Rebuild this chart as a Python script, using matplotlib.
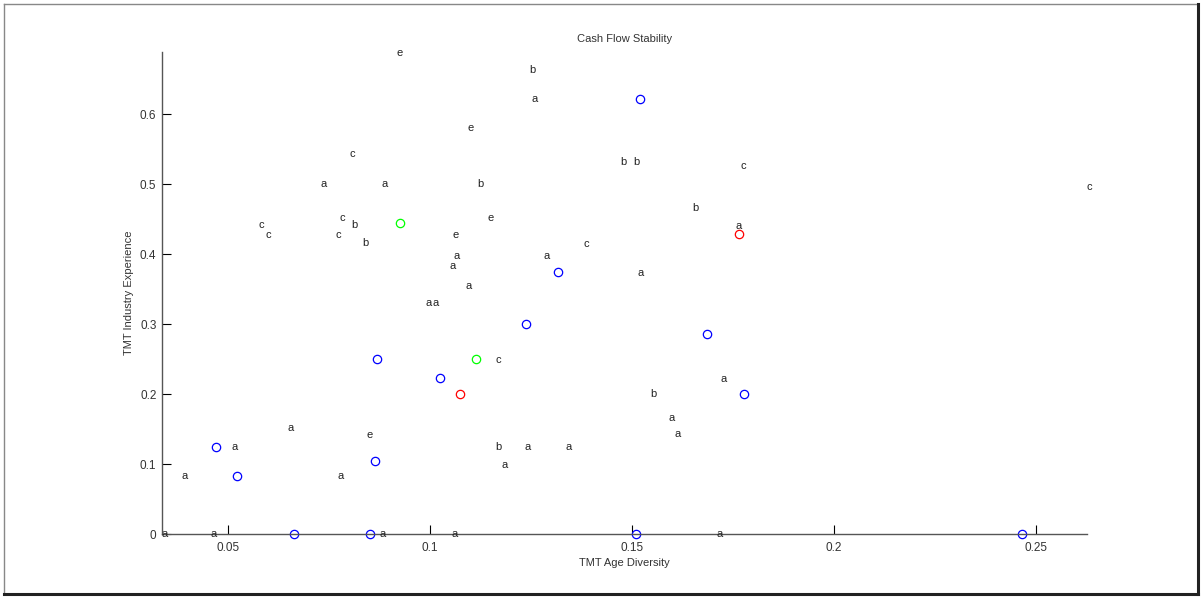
import matplotlib
matplotlib.use('Agg')
import matplotlib.pyplot as plt
from matplotlib.lines import Line2D

plt.rcParams['font.family'] = ['Liberation Sans', 'DejaVu Sans']

# letras (grupo) con sus coordenadas
letra_x = [0.0924, 0.1101, 0.0807, 0.0738, 0.0888, 0.1124, 0.0583, 0.0601, 0.0784, 0.0814,
           0.0773, 0.0840, 0.1150, 0.1063, 0.1066, 0.1056, 0.1096, 0.0997, 0.1015, 0.1169,
           0.0655, 0.0851, 0.0517, 0.0392, 0.0780, 0.1169, 0.0343, 0.0464, 0.0884, 0.1060,
           0.1254, 0.1260, 0.1480, 0.1511, 0.1776, 0.1658, 0.1763, 0.1386, 0.1290, 0.1521,
           0.1726, 0.1552, 0.1598, 0.1613, 0.1241, 0.1342, 0.1184, 0.1716, 0.2631]
letra_y = [0.6876, 0.5795, 0.5424, 0.5000, 0.5000, 0.5000, 0.4414, 0.4267, 0.4519, 0.4414,
           0.4267, 0.4152, 0.4519, 0.4267, 0.3971, 0.3824, 0.3543, 0.3305, 0.3305, 0.2486,
           0.1519, 0.1414, 0.1238, 0.0824, 0.0824, 0.1238, 0.0, 0.0, 0.0, 0.0,
           0.6629, 0.6210, 0.5319, 0.5319, 0.5262, 0.4652, 0.4405, 0.4143, 0.3971, 0.3733,
           0.2214, 0.1995, 0.1652, 0.1424, 0.1243, 0.1243, 0.0986, 0.0, 0.4960]
letra = ['e', 'e', 'c', 'a', 'a', 'b', 'c', 'c', 'c', 'b',
         'c', 'b', 'e', 'e', 'a', 'a', 'a', 'a', 'a', 'c',
         'a', 'e', 'a', 'a', 'a', 'b', 'a', 'a', 'a', 'a',
         'b', 'a', 'b', 'b', 'c', 'b', 'a', 'c', 'a', 'a',
         'a', 'b', 'a', 'a', 'a', 'a', 'a', 'a', 'c']

# circulos
azul_x = [0.0470, 0.0523, 0.0663, 0.0851, 0.0864, 0.0870, 0.1025, 0.1237, 0.1318,
          0.1521, 0.1686, 0.1776, 0.1509, 0.2464]
azul_y = [0.125, 0.0833, 0.0, 0.0, 0.105, 0.25, 0.2222, 0.30, 0.375,
          0.622, 0.2857, 0.20, 0.0, 0.0]
rojo_x = [0.1075, 0.1764]
rojo_y = [0.20, 0.4286]
verde_x = [0.0927, 0.1115]
verde_y = [0.4444, 0.25]

fig = plt.figure(figsize=(12.02, 5.98), dpi=100)
ax = fig.add_axes([0.1348, 0.1070, 0.7695, 0.806])

for x, y, t in zip(letra_x, letra_y, letra):
    ax.text(x, y, t, fontsize=8, ha='center', va='center', color='#222222')

ax.plot(azul_x, azul_y, 'o', mfc='none', mec='blue', ms=6, mew=0.9, clip_on=False)
ax.plot(rojo_x, rojo_y, 'o', mfc='none', mec='red', ms=6, mew=0.9, clip_on=False)
ax.plot(verde_x, verde_y, 'o', mfc='none', mec='lime', ms=6, mew=0.9, clip_on=False)

ax.set_xlim(0.0337, 0.2626)
ax.set_ylim(0, 0.6886)
ax.set_xticks([0.05, 0.1, 0.15, 0.2, 0.25])
ax.set_xticklabels(['0.05', '0.1', '0.15', '0.2', '0.25'])
ax.set_yticks([0, 0.1, 0.2, 0.3, 0.4, 0.5, 0.6])
ax.set_yticklabels(['0', '0.1', '0.2', '0.3', '0.4', '0.5', '0.6'])
ax.tick_params(direction='in', length=6.5, width=0.8, labelsize=8.5, pad=4,
               labelcolor='#333333')
ax.tick_params(axis='x', pad=5.5)
for lado in ['top', 'right']:
    ax.spines[lado].set_visible(False)
for lado in ['left', 'bottom']:
    ax.spines[lado].set_color('#555555')
    ax.spines[lado].set_linewidth(1.0)

ax.set_title('Cash Flow Stability', fontsize=8, color='#333333', pad=7)
ax.set_xlabel('TMT Age Diversity', fontsize=8, color='#333333', labelpad=3)
ax.set_ylabel('TMT Industry Experience', fontsize=8, color='#333333', labelpad=4)

# marco de la figura
W, H = 1202, 598
def px(x, y):
    return x / W, 1 - y / H
for (x0, y0), (x1, y1), lw, c in [((4, 4), (1198, 4), 1, '#888888'),
                                  ((4, 4), (4, 594), 1, '#888888'),
                                  ((1198, 4), (1198, 594), 2.2, '#222222'),
                                  ((4, 594), (1198, 594), 2.2, '#222222')]:
    a, b = px(x0, y0)
    c2, d = px(x1, y1)
    fig.add_artist(Line2D([a, c2], [b, d], lw=lw, color=c))

fig.savefig('out.png', dpi=100, facecolor='white')
